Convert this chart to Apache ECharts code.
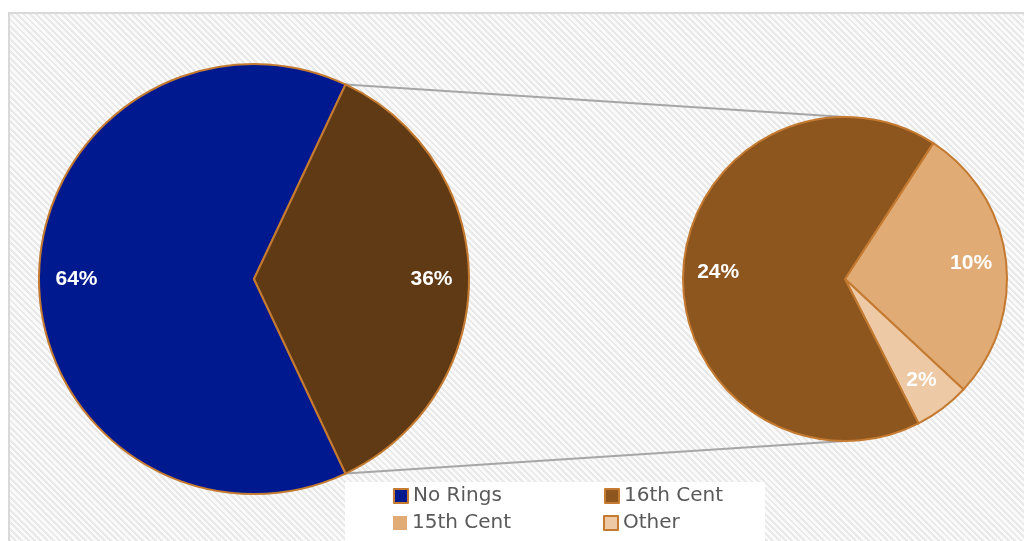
<!DOCTYPE html>
<html>
<head>
<meta charset="utf-8">
<script src="https://cdn.jsdelivr.net/npm/echarts@6/dist/echarts.min.js"></script>
<style>
  html, body { margin: 0; padding: 0; background: #ffffff; }
  #frame {
    position: absolute; left: 8px; top: 12px; width: 1100px; height: 600px;
    border: 2px solid #d9d9d9; box-sizing: border-box;
    background: repeating-linear-gradient(45deg, #fafafa 0px, #fafafa 2.5px, #e9e9e9 2.5px, #e9e9e9 4.5px);
  }
  #chart { position: absolute; left: 0; top: 0; width: 1024px; height: 541px; }
</style>
</head>
<body>
<div id="frame"></div>
<div id="chart"></div>
<script>
// ---- data ----
const mainNames = ['No Rings'];
const mainValues = [64];
const splitNames = ['15th Cent', 'Other', '16th Cent'];
const splitValues = [10, 2, 24];
const legendRow1 = ['No Rings', '16th Cent'];
const legendRow2 = ['15th Cent', 'Other'];

// ---- styling ----
const colors = {
  'No Rings': '#00198F',
  'Combined': '#603A15',
  '16th Cent': '#8D561F',
  '15th Cent': '#E1AB75',
  'Other': '#EEC9A5'
};
const edge = '#C47A30';
const font = '"Liberation Sans", Arial, sans-serif';
const legendFont = '"DejaVu Sans", Inter, sans-serif';

const c1 = [254, 279], r1 = 215;
const c2 = [845, 279], r2 = 162;

const combinedValue = splitValues.reduce((a, b) => a + b, 0);
const mainData = mainNames.map((n, i) => ({ name: n, value: mainValues[i], itemStyle: { color: colors[n] } }));
mainData.push({ name: 'Combined', value: combinedValue, itemStyle: { color: colors['Combined'] } });
const splitData = splitNames.map((n, i) => ({ name: n, value: splitValues[i], itemStyle: { color: colors[n] } }));

const mainTotal = mainData.reduce((a, d) => a + d.value, 0);
const halfAngle = 360 * combinedValue / mainTotal / 2; // degrees
const splitStart = 57;

const labelStyle = {
  show: true, position: 'inside', color: '#ffffff', fontSize: 21, fontWeight: 'bold',
  fontFamily: font, formatter: p => p.value + '%'
};

function labelOverlay(data, center, r0, r, start, clockwise) {
  return {
    type: 'pie', center: center, radius: [r0, r], startAngle: start, clockwise: clockwise,
    silent: true, z: 5, legendHoverLink: false,
    data: data.map(d => ({ name: d.name, value: d.value, itemStyle: { color: 'rgba(0,0,0,0)', borderWidth: 0 } })),
    label: labelStyle, labelLine: { show: false }, emphasis: { disabled: true }, animation: false
  };
}

const rad = halfAngle * Math.PI / 180;
const topPt = [c1[0] + r1 * Math.cos(rad), c1[1] - r1 * Math.sin(rad)];
const botPt = [c1[0] + r1 * Math.cos(rad), c1[1] + r1 * Math.sin(rad)];

function legendItems(names) {
  return names.map(n => ({
    name: n, icon: 'rect',
    itemStyle: { color: colors[n], borderColor: n === '15th Cent' ? colors[n] : edge, borderWidth: n === '15th Cent' ? 0 : 2 }
  }));
}
const legendCommon = {
  left: 388, itemWidth: 14, itemHeight: 14, itemGap: 20, selectedMode: false,
  textStyle: { fontSize: 20, color: '#595959', fontFamily: legendFont, width: 171, lineHeight: 22 }
};

const chart = echarts.init(document.getElementById('chart'), null, { renderer: 'canvas' });
chart.setOption({
  backgroundColor: 'transparent',
  animation: false,
  legend: [
    Object.assign({ top: 480, data: legendItems(legendRow1) }, legendCommon),
    Object.assign({ top: 507, data: legendItems(legendRow2) }, legendCommon)
  ],
  graphic: [
    { type: 'rect', left: 345, top: 482, shape: { width: 420, height: 70 }, style: { fill: '#ffffff' }, z: 0, silent: true },
    { type: 'line', shape: { x1: topPt[0], y1: topPt[1], x2: c2[0], y2: c2[1] - r2 }, style: { stroke: '#a6a6a6', lineWidth: 2 }, z: 1, silent: true },
    { type: 'line', shape: { x1: botPt[0], y1: botPt[1], x2: c2[0], y2: c2[1] + r2 }, style: { stroke: '#a6a6a6', lineWidth: 2 }, z: 1, silent: true }
  ],
  series: [
    {
      type: 'pie', center: c1, radius: [0, r1], startAngle: halfAngle, clockwise: false,
      data: mainData, itemStyle: { borderColor: edge, borderWidth: 2 },
      label: { show: false }, labelLine: { show: false }, emphasis: { disabled: true }, z: 3
    },
    {
      type: 'pie', center: c2, radius: [0, r2], startAngle: splitStart, clockwise: true,
      data: splitData, itemStyle: { borderColor: edge, borderWidth: 2 },
      label: { show: false }, labelLine: { show: false }, emphasis: { disabled: true }, z: 3
    },
    labelOverlay(mainData, c1, 134, r1, halfAngle, false),
    labelOverlay(splitData, c2, 86, r2, splitStart, true)
  ]
});
</script>
</body>
</html>
